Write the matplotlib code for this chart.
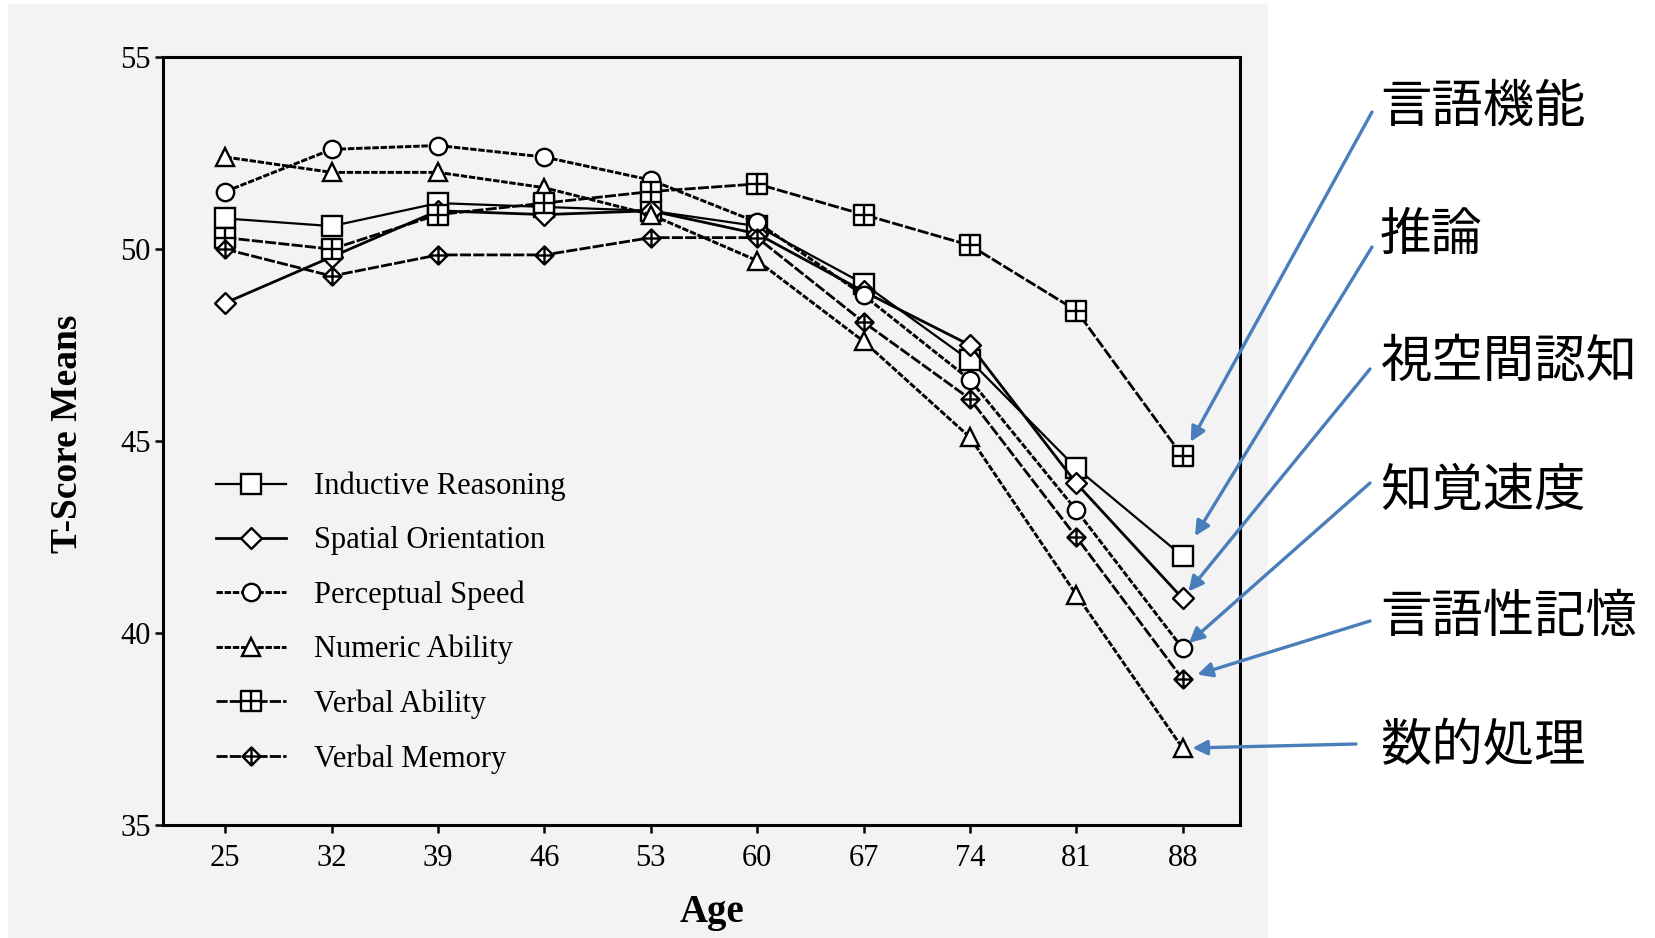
import numpy as np
import matplotlib
matplotlib.use("Agg")
import matplotlib.pyplot as plt
from matplotlib.path import Path
from matplotlib.patches import Rectangle

plt.rcParams['font.family'] = ['Liberation Serif', 'DejaVu Serif']

####################################################################################
# data

ages = [25, 32, 39, 46, 53, 60, 67, 74, 81, 88]

inductive_reasoning = [50.8, 50.6, 51.2, 51.1, 51.0, 50.6, 49.1, 47.1, 44.3, 42.0]
spatial_orientation = [48.6, 49.8, 51.0, 50.9, 51.0, 50.4, 48.9, 47.5, 43.9, 40.9]
perceptual_speed = [51.5, 52.6, 52.7, 52.4, 51.8, 50.7, 48.8, 46.6, 43.2, 39.6]
numeric_ability = [52.4, 52.0, 52.0, 51.6, 50.9, 49.7, 47.6, 45.1, 41.0, 37.0]
verbal_ability = [50.3, 50.0, 50.9, 51.2, 51.5, 51.7, 50.9, 50.1, 48.4, 44.6]
verbal_memory = [50.0, 49.3, 49.85, 49.85, 50.3, 50.3, 48.1, 46.1, 42.5, 38.8]

series_names = ["Inductive Reasoning", "Spatial Orientation", "Perceptual Speed",
                "Numeric Ability", "Verbal Ability", "Verbal Memory"]
series_vals = [inductive_reasoning, spatial_orientation, perceptual_speed,
               numeric_ability, verbal_ability, verbal_memory]

# japanese annotations, matched to the series they point at
jp_labels = ["言語機能", "推論", "視空間認知", "知覚速度", "言語性記憶", "数的処理"]
jp_targets = [verbal_ability, inductive_reasoning, spatial_orientation,
              perceptual_speed, verbal_memory, numeric_ability]

####################################################################################
# custom markers

box = [(-1, -1), (1, -1), (1, 1), (-1, 1), (-1, -1)]
rhomb = [(0, -1), (1, 0), (0, 1), (-1, 0), (0, -1)]
cross = [Path([(0, -1), (0, 1)]), Path([(-1, 0), (1, 0)])]

square_plus = Path.make_compound_path(Path(box, closed=True), *cross)
diamond = Path(rhomb, closed=True)
diamond_plus = Path.make_compound_path(Path(rhomb, closed=True), *cross)

markers = ['s', diamond, 'o', '^', square_plus, diamond_plus]
msizes = [14, 15, 12.5, 13.5, 14, 13]
line_stys = ['solid', 'solid', (0, (2.2, 0.6)), (0, (2.2, 0.6)), (0, (4, 0.8)), (0, (4, 0.8))]
line_wids = [1.6, 2.0, 2.1, 2.1, 2.0, 2.0]

####################################################################################

fig = plt.figure(figsize=(16.55, 9.38), dpi=100)
fig.patch.set_facecolor('white')

# greyish scanned paper on the left part
fig.patches.append(Rectangle((8 / 1655, 0), 1260 / 1655, 1 - 4 / 938,
                             transform=fig.transFigure, facecolor='#f3f3f3',
                             edgecolor='none', zorder=-10))

ax = fig.add_axes([0.0985, 0.1205, 0.651, 0.8185])
ax.set_facecolor('none')

for count in range(len(series_names)):
    ax.plot(ages, series_vals[count], label=series_names[count], color='black',
            lw=line_wids[count], linestyle=line_stys[count], marker=markers[count],
            markersize=msizes[count], markerfacecolor='white', markeredgecolor='black',
            markeredgewidth=1.7, zorder=3)

ax.set_xlim(20.9, 91.8)
ax.set_ylim(35, 55)
ax.set_xticks(ages)
ax.set_yticks([35, 40, 45, 50, 55])

for s in ax.spines.values():
    s.set_linewidth(2.2)

ax.tick_params(axis='both', direction='out', length=6, width=1.8, labelsize=22)
ax.tick_params(axis='x', pad=8)
ax.tick_params(axis='y', pad=3)

ax.set_ylabel("T-Score Means", fontsize=27, fontweight='bold')
ax.yaxis.set_label_coords(-0.072, 0.51)
ax.set_xlabel("Age", fontsize=28, fontweight='bold')
ax.xaxis.set_label_coords(0.51, -0.09)

leg = ax.legend(loc='upper left', bbox_to_anchor=(0.049, 0.46), frameon=False,
                fontsize=22, labelspacing=0.82, handlelength=2.3, handletextpad=0.9,
                borderpad=0, borderaxespad=0)

####################################################################################
# japanese labels with blue arrows

blue = '#4A7EBB'
text_y = [107, 235, 362, 491, 617, 746]
arrow_start = [(1372, 112), (1372, 247), (1370, 369), (1370, 483), (1370, 621), (1356, 744)]
arrow_shrink = [12, 17, 6.5, 6, 11, 7]

for k in range(len(jp_labels)):
    fig.text(1380 / 1655, 1 - text_y[k] / 938, jp_labels[k], fontsize=37,
             family=['Noto Sans CJK JP', 'DejaVu Sans'], ha='left', va='center')
    sx, sy = arrow_start[k]
    ax.annotate('', xy=(ages[-1], jp_targets[k][-1]), xycoords='data',
                xytext=(sx / 1655, 1 - sy / 938), textcoords='figure fraction',
                arrowprops=dict(arrowstyle='-|>', color=blue, lw=2.4, mutation_scale=22,
                                shrinkA=0, shrinkB=arrow_shrink[k]),
                annotation_clip=False, zorder=5)

plt.savefig('out.png', dpi=100)
